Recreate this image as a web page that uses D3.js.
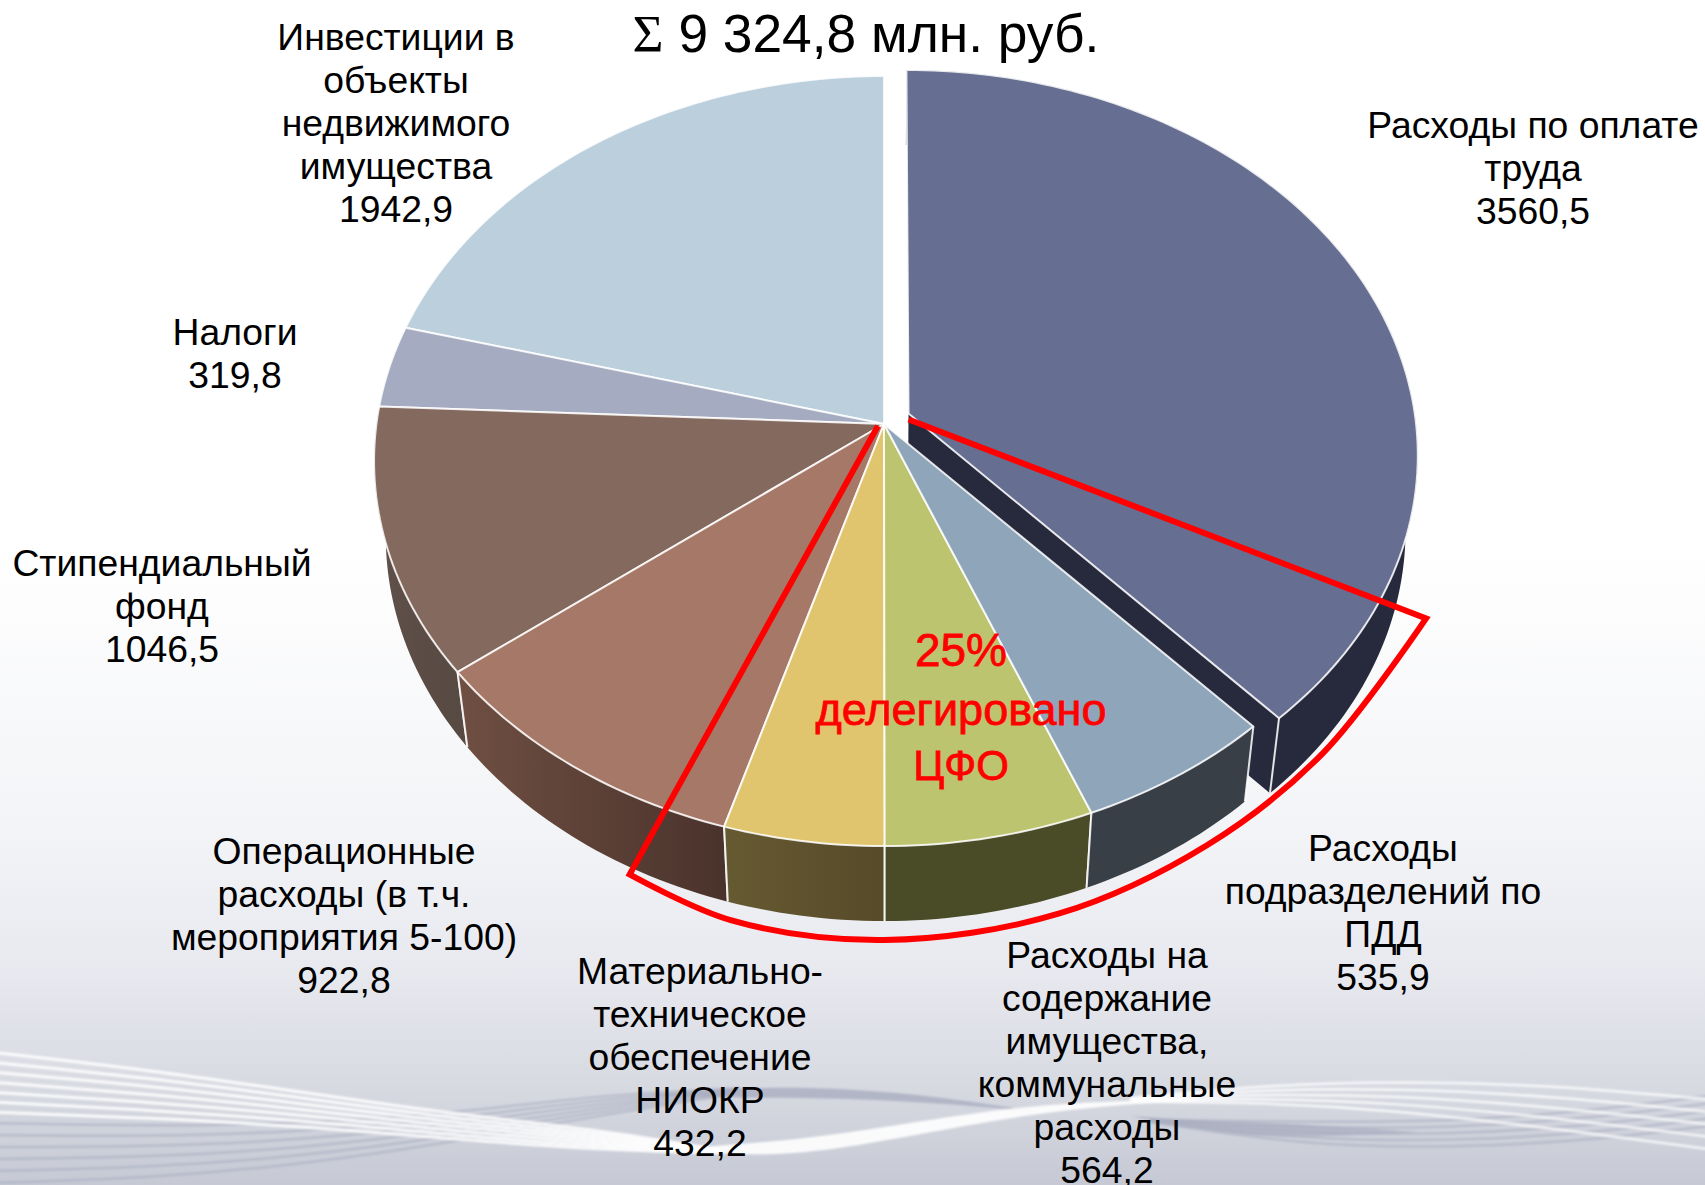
<!DOCTYPE html>
<html>
<head>
<meta charset="utf-8">
<script src="https://cdn.jsdelivr.net/npm/d3@7"></script>
<style>
  html, body { margin: 0; padding: 0; background: #fff; }
  svg { display: block; }
  text { font-family: "Liberation Sans", Arial, sans-serif; fill: #000; }
</style>
</head>
<body>
<div id="chart"></div>
<script>
const categories = [
  ['Расходы по оплате', 'труда'],
  ['Расходы', 'подразделений по', 'ПДД'],
  ['Расходы на', 'содержание', 'имущества,', 'коммунальные', 'расходы'],
  ['Материально-', 'техническое', 'обеспечение', 'НИОКР'],
  ['Операционные', 'расходы (в т.ч.', 'мероприятия 5-100)'],
  ['Стипендиальный', 'фонд'],
  ['Налоги'],
  ['Инвестиции в', 'объекты', 'недвижимого', 'имущества']
];
const values = [3560.5, 535.9, 564.2, 432.2, 922.8, 1046.5, 319.8, 1942.9];
const valueLabels = ['3560,5', '535,9', '564,2', '432,2', '922,8', '1046,5', '319,8', '1942,9'];
const topColors = ['#666f91', '#8fa5b9', '#bdc46f', '#e0c46e', '#a67868', '#84695e', '#a5abc1', '#bccfdd'];
const wallLeft = ['#272a3d', '#383f47', '#4a4c28', '#665a32', '#6f4f42', '#60514a', '#60514a', '#60514a'];
const wallRight = ['#272a3d', '#383f47', '#4a4c28', '#574a29', '#4a332c', '#574a43', '#60514a', '#60514a'];
const labelX = [1533, 1383, 1107, 700, 344, 162, 235, 396];
const labelY = [125, 848, 955, 971, 851, 563, 332, 37];
const delegatedLines = ['25%', 'делегировано', 'ЦФО'];
// red outline of the delegated part (degrees from 12 o'clock, pie radii)
const delegatedAngles = [115.5, 135, 150, 165, 180, 193, 203];
const delegatedRadii = [1.128, 1.128, 1.152, 1.183, 1.197, 1.187, 1.152];

const width = 1705, height = 1185;
const lineStep = 42.9;
const explode = [0.052, 0, 0, 0, 0, 0, 0, 0];

// pie plane -> screen, tilted with a little perspective
const tilt = 0.0961;
const depth = 75, bottomScale = 0.977;
const x = d3.scaleLinear().domain([-1, 1]).range([884 - 507.6, 884 + 507.6]);
const y = d3.scaleLinear().domain([-1, 1]).range([424 - 381.5, 424 + 381.5]);

function project(u, v, bottom) {
  const w = 1 - tilt * v;
  const px = x(u / w), py = y(v / w);
  return bottom ? [x(0) + bottomScale * (px - x(0)), py + depth] : [px, py];
}
const onCircle = (a, r, off) => [off[0] + r * Math.sin(a), off[1] - r * Math.cos(a)];
function arcPoints(a0, a1, r, off, bottom) {
  const n = Math.max(2, Math.ceil(Math.abs(a1 - a0) / 0.02));
  return d3.range(n + 1).map(i => {
    const p = onCircle(a0 + (a1 - a0) * i / n, r, off);
    return project(p[0], p[1], bottom);
  });
}
const line = d3.line();

const svg = d3.select('#chart').append('svg').attr('width', width).attr('height', height);
const defs = svg.append('defs');

// background
const bg = defs.append('linearGradient').attr('id', 'bg').attr('x1', 0).attr('x2', 0).attr('y1', 0).attr('y2', 1);
[[0, '#ffffff'], [0.46, '#ffffff'], [0.7, '#f3f4f7'], [0.82, '#e8e9ef'], [0.92, '#d7d9e1'], [1, '#c6c9d4']]
  .forEach(s => bg.append('stop').attr('offset', s[0]).attr('stop-color', s[1]));
svg.append('rect').attr('width', width).attr('height', height).attr('fill', 'url(#bg)');
const blur = defs.append('filter').attr('id', 'soft');
blur.append('feGaussianBlur').attr('stdDeviation', 0.8);

// wave decoration: bundles of lines between a top and a bottom curve
const wave = d3.line().curve(d3.curveBasis);
const ribbon = d3.area().curve(d3.curveBasis);
const waves = svg.append('g').attr('fill', 'none').attr('filter', 'url(#soft)');

function bundle(top, bottom, n, color, opacity, w) {
  d3.range(n).forEach(i => {
    const t = i / (n - 1);
    const pts = top.map((p, j) => [p[0], p[1] + (bottom[j][1] - p[1]) * t]);
    waves.append('path').attr('d', wave(pts))
      .attr('stroke', color).attr('stroke-opacity', opacity).attr('stroke-width', w);
  });
}
function band(top, bottom, color, opacity) {
  const a = ribbon.x(d => d[0]).y0(d => d[1]).y1((d, i) => bottom[i][1]);
  waves.append('path').attr('d', a(top)).attr('fill', color).attr('fill-opacity', opacity);
}

bundle([[-10, 1123], [150, 1126], [300, 1124], [466, 1112], [600, 1095], [740, 1088]],
       [[-10, 1183], [150, 1178], [300, 1165], [466, 1140], [600, 1115], [740, 1093]], 6, '#a9adbf', 0.6, 2.5);
band([[640, 1096], [740, 1087], [850, 1088], [950, 1098], [1040, 1112]],
     [[640, 1096], [740, 1098], [850, 1098], [950, 1104], [1040, 1112]], '#a9adbf', 0.8);
band([[1130, 1116], [1230, 1122], [1300, 1124], [1420, 1132]],
     [[1130, 1116], [1230, 1135], [1300, 1138], [1420, 1132]], '#a9adbf', 0.7);
bundle([[1150, 1120], [1300, 1122], [1450, 1122], [1600, 1110], [1715, 1095]],
       [[1150, 1122], [1300, 1145], [1450, 1148], [1600, 1140], [1715, 1125]], 5, '#a9adbf', 0.6, 2.5);
bundle([[-10, 1052], [150, 1070], [300, 1092], [466, 1116], [600, 1130], [720, 1150]],
       [[-10, 1112], [150, 1118], [300, 1126], [466, 1140], [600, 1150], [720, 1153]], 7, '#fff', 0.9, 3);
band([[650, 1150], [780, 1142], [880, 1128], [1014, 1106], [1130, 1100], [1260, 1098]],
     [[650, 1150], [780, 1158], [880, 1142], [1014, 1116], [1130, 1103], [1260, 1098]], '#fff', 0.9);
bundle([[1130, 1098], [1250, 1086], [1395, 1081], [1550, 1085], [1715, 1100]],
       [[1130, 1102], [1250, 1102], [1395, 1110], [1550, 1128], [1715, 1150]], 5, '#fff', 0.8, 2.5);

// pie
const arcs = d3.pie().sort(null)(values).map((d, i) => {
  const mid = (d.startAngle + d.endAngle) / 2;
  return {
    i,
    a0: d.startAngle,
    a1: d.endAngle,
    off: [explode[i] * Math.sin(mid), -explode[i] * Math.cos(mid)],
    apexLift: i === 0 ? 0.009 : 0
  };
});

arcs.forEach(d => {
  const g = defs.append('linearGradient').attr('id', 'wall' + d.i)
    .attr('gradientUnits', 'userSpaceOnUse')
    .attr('x1', d3.min(arcPoints(d.a0, d.a1, 1, d.off), p => p[0]))
    .attr('x2', d3.max(arcPoints(d.a0, d.a1, 1, d.off), p => p[0]))
    .attr('y1', 0).attr('y2', 0);
  g.append('stop').attr('offset', 0).attr('stop-color', wallLeft[d.i]);
  g.append('stop').attr('offset', 1).attr('stop-color', wallRight[d.i]);
});

function drawWall(d) {
  const pts = arcPoints(d.a0, d.a1, 1, d.off, false)
    .concat(arcPoints(d.a1, d.a0, 1, d.off, true));
  pie.append('path').attr('d', line(pts) + 'Z').attr('fill', 'url(#wall' + d.i + ')');
  [d.a0, d.a1].forEach(a => {
    const p = onCircle(a, 1, d.off);
    if (a > Math.PI * 0.6 && a < Math.PI * 1.6) {
      pie.append('path').attr('d', line([project(p[0], p[1], false), project(p[0], p[1], true)]))
        .attr('stroke', '#fff').attr('stroke-opacity', 0.85).attr('stroke-width', 2);
    }
  });
}
function drawTop(d) {
  const pts = [project(d.off[0], d.off[1] - d.apexLift, false)].concat(arcPoints(d.a0, d.a1, 1, d.off, false));
  pie.append('path').attr('d', line(pts) + 'Z')
    .attr('fill', topColors[d.i])
    .attr('stroke', '#fff').attr('stroke-opacity', 0.85).attr('stroke-width', 2)
    .attr('stroke-linejoin', 'round');
}

const pie = svg.append('g');
// first slice is pulled out, so its cut face shows
const first = arcs[0];
const cutEnd = onCircle(first.a1, 1, first.off);
pie.append('path')
  .attr('d', line([
    project(first.off[0], first.off[1] - first.apexLift, false),
    project(cutEnd[0], cutEnd[1], false),
    project(cutEnd[0], cutEnd[1], true),
    project(first.off[0], first.off[1], true)
  ]) + 'Z')
  .attr('fill', wallLeft[0]);
drawWall(first);
drawTop(first);
[7, 6].forEach(i => drawTop(arcs[i]));
[5, 4, 3, 2, 1].forEach(i => drawWall(arcs[i]));
[5, 4, 3, 2, 1].forEach(i => drawTop(arcs[i]));

// delegated share outline
const arcCurve = d3.line().curve(d3.curveCatmullRom.alpha(0.5));
const rimPts = delegatedAngles.map((a, i) => {
  const p = onCircle(a * Math.PI / 180, delegatedRadii[i], [0, 0]);
  return project(p[0], p[1], false);
});
const startPt = project(first.off[0], first.off[1] + 0.007, false);
const endPt = project(-0.012, 0.005, false);
svg.append('path')
  .attr('d', 'M' + startPt + 'L' + arcCurve(rimPts).slice(1) + 'L' + endPt)
  .attr('fill', 'none').attr('stroke', '#ff0000').attr('stroke-width', 6).attr('stroke-linejoin', 'miter');

// labels
const labels = svg.append('g').attr('font-size', 37.3).attr('text-anchor', 'middle');
categories.forEach((lines, i) => {
  const t = labels.append('text');
  lines.concat([valueLabels[i]]).forEach((s, j) => {
    t.append('tspan').attr('x', labelX[i]).attr('y', labelY[i] + j * lineStep).attr('dy', '0.35em').text(s);
  });
});

// title
const title = svg.append('text').attr('x', 866).attr('y', 33).attr('dy', '0.35em')
  .attr('text-anchor', 'middle').attr('font-size', 53.3);
title.append('tspan').style('font-family', '"Liberation Serif", serif').text('Σ');
title.append('tspan').text(' 9 324,8 млн. руб.');

// delegated note
const note = svg.append('g').attr('text-anchor', 'middle');
[[650, 46], [709, 45], [765, 42]].forEach((p, i) => {
  note.append('text').attr('x', 961).attr('y', p[0]).attr('dy', '0.35em').attr('font-size', p[1])
    .style('fill', '#ff0000').attr('stroke', '#ff0000').attr('stroke-width', 0.8).text(delegatedLines[i]);
});
</script>
</body>
</html>
